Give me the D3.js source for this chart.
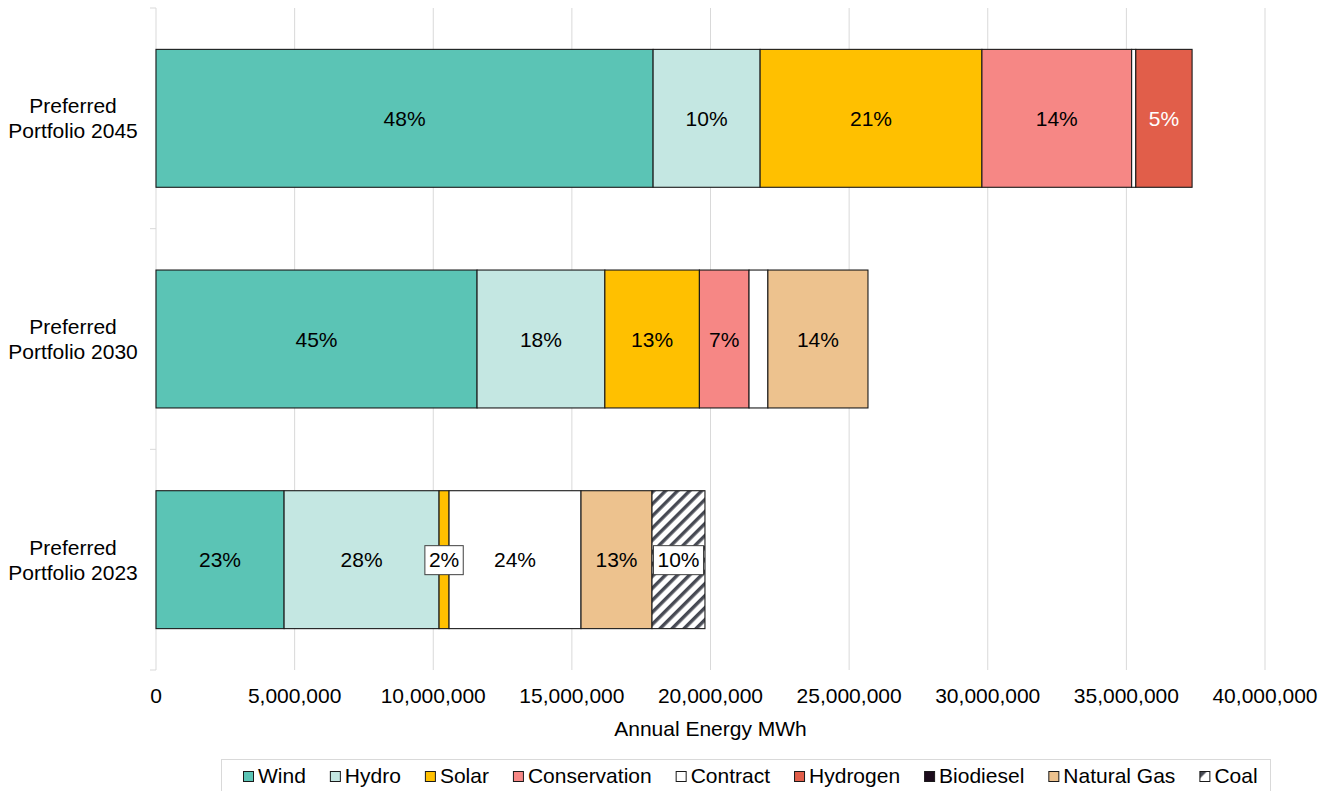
<!DOCTYPE html>
<html>
<head>
<meta charset="utf-8">
<script src="https://cdn.jsdelivr.net/npm/d3@7"></script>
<style>
  html, body { margin: 0; padding: 0; background: #ffffff; }
  svg { display: block; font-family: "Liberation Sans", Arial, sans-serif; }
</style>
</head>
<body>
<svg id="chart" width="1330" height="791"></svg>
<script>
// Portfolios, listed top to bottom
const categories = ["Preferred Portfolio 2045", "Preferred Portfolio 2030", "Preferred Portfolio 2023"];

// Annual energy by resource (MWh), one value per portfolio
const wind         = [17930000, 11580000, 4620000];
const hydro        = [3860000,  4610000,  5590000];
const solar        = [8000000,  3410000,  360000];
const conservation = [5400000,  1790000,  0];
const contract     = [150000,   680000,   4760000];
const hydrogen     = [2030000,  0,        0];
const biodiesel    = [0,        0,        0];
const naturalGas   = [0,        3610000,  2560000];
const coal         = [0,        0,        1910000];

const seriesNames = ["Wind", "Hydro", "Solar", "Conservation", "Contract", "Hydrogen", "Biodiesel", "Natural Gas", "Coal"];
const seriesValues = [wind, hydro, solar, conservation, contract, hydrogen, biodiesel, naturalGas, coal];
const seriesColors = ["#5bc4b5", "#c4e7e2", "#ffc000", "#f68785", "#ffffff", "#e15e4a", "#1c0c1c", "#edc28e", "url(#coalHatch)"];

// Axis ticks
const xTicks = [0, 5000000, 10000000, 15000000, 20000000, 25000000, 30000000, 35000000, 40000000];

// Share labels that are left off, and those drawn in a boxed callout
const unlabeled = [["Preferred Portfolio 2045", "Contract"], ["Preferred Portfolio 2030", "Contract"]];
const boxed = [["Preferred Portfolio 2023", "Solar"], ["Preferred Portfolio 2023", "Coal"]];
const whiteLabelSeries = ["Hydrogen"];

const svg = d3.select("#chart");
const FONT = 21;

const plot = { left: 156, right: 1265, top: 8, bottom: 670 };

const x = d3.scaleLinear().domain([0, 40000000]).range([plot.left, plot.right]);
const y = d3.scaleBand().domain(categories).range([plot.top, plot.bottom])
  .paddingInner(0.375).paddingOuter(0.1875);

// Hatch used for coal
const defs = svg.append("defs");
const pat = defs.append("pattern")
  .attr("id", "coalHatch")
  .attr("patternUnits", "userSpaceOnUse")
  .attr("width", 8.5).attr("height", 8.5)
  .attr("patternTransform", "rotate(45)");
pat.append("rect").attr("width", 8.5).attr("height", 8.5).attr("fill", "#ffffff");
pat.append("rect").attr("x", 0).attr("y", 0).attr("width", 3.4).attr("height", 8.5).attr("fill", "#474a54");

// Small legend swatch for coal: dark corner on white
const swatchPat = defs.append("pattern")
  .attr("id", "coalSwatch")
  .attr("patternUnits", "objectBoundingBox")
  .attr("width", 1).attr("height", 1);
swatchPat.append("rect").attr("width", 10).attr("height", 10).attr("fill", "#ffffff");
swatchPat.append("path").attr("d", "M0,0 L7,0 L0,7 Z").attr("fill", "#474a54");

// Vertical gridlines
svg.append("g")
  .selectAll("line")
  .data(xTicks.filter(d => d > 0))
  .join("line")
  .attr("x1", d => x(d)).attr("x2", d => x(d))
  .attr("y1", plot.top).attr("y2", plot.bottom)
  .attr("stroke", "#d9d9d9").attr("stroke-width", 1);

// Category axis line with tick marks at band boundaries
const yAxis = svg.append("g");
yAxis.append("line")
  .attr("x1", plot.left).attr("x2", plot.left)
  .attr("y1", plot.top).attr("y2", plot.bottom)
  .attr("stroke", "#d9d9d9").attr("stroke-width", 1);
const step = y.step();
const boundaries = d3.range(categories.length + 1).map(i => plot.top + i * step);
yAxis.selectAll("line.tick")
  .data(boundaries)
  .join("line")
  .attr("class", "tick")
  .attr("x1", plot.left - 6).attr("x2", plot.left)
  .attr("y1", d => d).attr("y2", d => d)
  .attr("stroke", "#d9d9d9").attr("stroke-width", 1);

// Category labels (two lines, centred)
const catLabels = svg.append("g")
  .selectAll("text")
  .data(categories)
  .join("text")
  .attr("text-anchor", "middle")
  .attr("font-size", FONT)
  .attr("fill", "#000");
catLabels.each(function(d) {
  const parts = d.split(" ");
  const line1 = parts[0];
  const line2 = parts.slice(1).join(" ");
  const cy = y(d) + y.bandwidth() / 2;
  const t = d3.select(this);
  t.append("tspan").attr("x", 73).attr("y", cy - 5).text(line1);
  t.append("tspan").attr("x", 73).attr("y", cy + 20).text(line2);
});

// Stack the series
const rows = categories.map((c, i) => {
  const r = { category: c };
  seriesNames.forEach((s, j) => { r[s] = seriesValues[j][i]; });
  return r;
});
const stacked = d3.stack().keys(seriesNames)(rows);
const totals = rows.map(r => d3.sum(seriesNames, s => r[s]));

const barG = svg.append("g");
stacked.forEach((layer, j) => {
  barG.append("g")
    .selectAll("rect")
    .data(layer.filter(d => d[1] - d[0] > 0))
    .join("rect")
    .attr("x", d => x(d[0]))
    .attr("y", d => y(d.data.category))
    .attr("width", d => x(d[1]) - x(d[0]))
    .attr("height", y.bandwidth())
    .attr("fill", seriesColors[j])
    .attr("stroke", "#1a1a1a")
    .attr("stroke-width", 1.1);
});

// Percentage labels
const labelG = svg.append("g");
const isIn = (list, c, s) => list.some(p => p[0] === c && p[1] === s);
stacked.forEach((layer, j) => {
  const name = seriesNames[j];
  layer.forEach((d, i) => {
    const v = d[1] - d[0];
    if (v <= 0) return;
    const c = d.data.category;
    if (isIn(unlabeled, c, name)) return;
    const pct = Math.round(v / totals[i] * 100) + "%";
    const cx = (x(d[0]) + x(d[1])) / 2;
    const cy = y(c) + y.bandwidth() / 2;
    const g = labelG.append("g");
    const t = g.append("text")
      .attr("x", cx).attr("y", cy + 7.5)
      .attr("text-anchor", "middle")
      .attr("font-size", FONT)
      .attr("fill", whiteLabelSeries.includes(name) ? "#ffffff" : "#000000")
      .text(pct);
    if (isIn(boxed, c, name)) {
      const w = t.node().getComputedTextLength() + 8;
      g.insert("rect", "text")
        .attr("x", cx - w / 2).attr("y", cy - 14)
        .attr("width", w).attr("height", 29)
        .attr("fill", "#ffffff")
        .attr("stroke", "#404040").attr("stroke-width", 1);
    }
  });
});

// Value axis tick labels
svg.append("g")
  .selectAll("text")
  .data(xTicks)
  .join("text")
  .attr("x", d => x(d))
  .attr("y", 703)
  .attr("text-anchor", "middle")
  .attr("font-size", FONT)
  .attr("fill", "#000")
  .text(d => d3.format(",")(d));

// Axis title
svg.append("text")
  .attr("x", (plot.left + plot.right) / 2)
  .attr("y", 736)
  .attr("text-anchor", "middle")
  .attr("font-size", FONT)
  .attr("fill", "#000")
  .text("Annual Energy MWh");

// Legend
const legend = svg.append("g");
legend.append("rect")
  .attr("x", 221.5).attr("y", 759.5)
  .attr("width", 1049).attr("height", 45)
  .attr("fill", "#ffffff")
  .attr("stroke", "#d9d9d9").attr("stroke-width", 1);
let lx = 243;
seriesNames.forEach((name, j) => {
  const item = legend.append("g");
  item.append("rect")
    .attr("x", lx + 0.5).attr("y", 771.5)
    .attr("width", 10).attr("height", 10)
    .attr("fill", name === "Coal" ? "url(#coalSwatch)" : seriesColors[j])
    .attr("stroke", "#1a1a1a").attr("stroke-width", 1);
  const t = item.append("text")
    .attr("x", lx + 15).attr("y", 783)
    .attr("font-size", FONT)
    .attr("fill", "#000")
    .text(name);
  lx += 15 + t.node().getComputedTextLength() + 24;
});
</script>
</body>
</html>
